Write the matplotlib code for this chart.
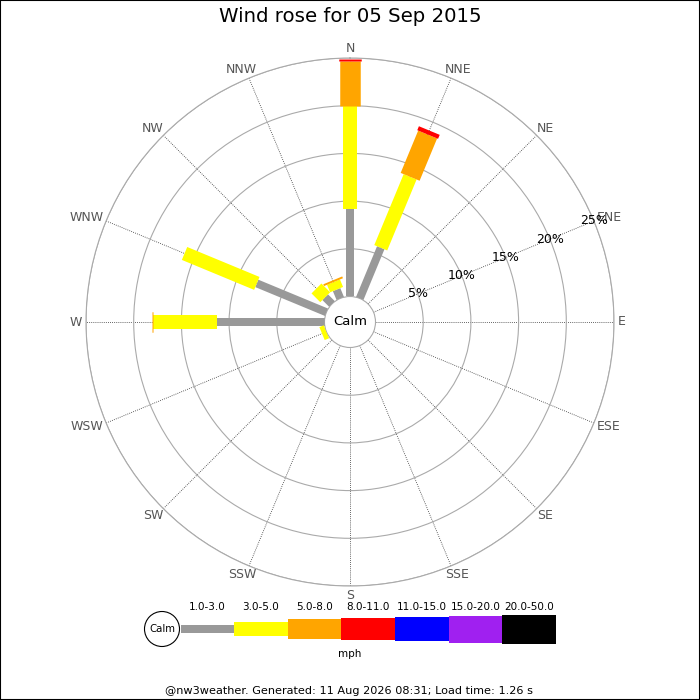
import numpy as np
import matplotlib
matplotlib.use('Agg')
import matplotlib.pyplot as plt
from matplotlib.patches import Circle, Rectangle

# data
directions = ['N', 'NNE', 'NE', 'ENE', 'E', 'ESE', 'SE', 'SSE',
              'S', 'SSW', 'SW', 'WSW', 'W', 'WNW', 'NW', 'NNW']
bands = ['1.0-3.0', '3.0-5.0', '5.0-8.0', '8.0-11.0',
         '11.0-15.0', '15.0-20.0', '20.0-50.0']
# % of the day per direction, one list per speed band (mph)
pct_1_3 = [9.2, 5.75, 0, 0, 0, 0, 0, 0, 0, 0, 0, 0, 11.3, 7.9, 1.0, 1.0]
pct_3_5 = [10.8, 8.05, 0, 0, 0, 0, 0, 0, 0, 0, 0, 0.5, 6.65, 8.2, 1.3, 0.85]
pct_5_8 = [4.7, 4.8, 0, 0, 0, 0, 0, 0, 0, 0, 0, 0, 0.12, 0, 0, 0.2]
pct_8_11 = [0.2, 0.45, 0, 0, 0, 0, 0, 0, 0, 0, 0, 0, 0, 0, 0, 0]
pct_11_15 = [0] * 16
pct_15_20 = [0] * 16
pct_20_50 = [0] * 16
rings = [5, 10, 15, 20, 25]
title = 'Wind rose for 05 Sep 2015'
footer = '@nw3weather. Generated: 11 Aug 2026 08:31; Load time: 1.26 s'

series = [pct_1_3, pct_3_5, pct_5_8, pct_8_11, pct_11_15, pct_15_20, pct_20_50]
colors = ['#999999', '#ffff00', '#ffa500', '#ff0000', '#0000ff', '#a020f0', '#000000']
thick_px = [8, 14, 20.5, 22.5, 24.5, 27, 29]

fig = plt.figure(figsize=(7, 7), dpi=100)

# legend / text layer in pixel coords
lg = fig.add_axes([0, 0, 1, 1])
lg.set_xlim(0, 700)
lg.set_ylim(700, 0)
lg.axis('off')

ax = fig.add_axes([86 / 700, 114 / 700, 528 / 700, 528 / 700], projection='polar')
ax.set_theta_zero_location('N')
ax.set_theta_direction(-1)
ax.set_rlim(0, 25)
ax.set_rorigin(-25.5 / 9.54)
ax.set_thetagrids(np.arange(16) * 22.5, [''] * 16)
ax.set_rgrids(rings, labels=[''] * len(rings))
ax.xaxis.grid(True, color='#333333', linestyle=(0, (1, 1.5)), linewidth=0.6)
ax.yaxis.grid(True, color='#aaaaaa', linestyle='-', linewidth=0.8)
ax.tick_params(axis='both', length=0)
for s in ['polar', 'inner']:
    ax.spines[s].set_edgecolor('#aaaaaa')
    ax.spines[s].set_linewidth(0.8)

thetas = np.deg2rad(np.arange(16) * 22.5)
start = np.zeros(16)
for vals, col, w in zip(series, colors, thick_px):
    vals = np.array(vals, dtype=float)
    for th, s0, v in zip(thetas, start, vals):
        if v > 0:
            ax.plot([th, th], [s0, s0 + v], color=col, lw=w * 0.72,
                    solid_capstyle='butt', zorder=3)
    start = start + vals

# compass labels pushed out so their box edge sits just off the ring
dir_labels = []
for th, name in zip(thetas, directions):
    t = ax.annotate(name, xy=(th, rings[-1]), xytext=(0, 0),
                    textcoords='offset pixels', ha='center', va='center',
                    fontsize=9, color='#555555', annotation_clip=False)
    dir_labels.append(t)

for r in rings:
    ax.text(np.deg2rad(67.5), r, f'{r}%', ha='center', va='center',
            fontsize=9, color='black', zorder=4)
ax.text(0.5, 0.5, 'Calm', transform=ax.transAxes, ha='center', va='center', fontsize=9.5)

fig.text(0.5, 1 - 17 / 700, title, ha='center', va='center', fontsize=14.2)

# legend
seg = 53.6
lefts = 180.5 + np.arange(len(bands)) * seg
lg.barh(629, seg, left=lefts, height=thick_px, color=colors, align='center')
for x, b in zip(lefts + seg / 2, bands):
    lg.text(x, 607, b, ha='center', va='center', fontsize=7.5)
lg.add_patch(Circle((162, 629), 17.5, fc='white', ec='black', lw=0.8, zorder=3))
lg.text(162, 629, 'Calm', ha='center', va='center', fontsize=7.3, zorder=4)
lg.text(350, 654, 'mph', ha='center', va='center', fontsize=7.5)
lg.text(349, 691, footer, ha='center', va='center', fontsize=8.1)

fig.patches.append(Rectangle((0, 0), 1, 1, transform=fig.transFigure,
                             fill=False, ec='black', lw=1.5))

fig.canvas.draw()
renderer = fig.canvas.get_renderer()
for t, th in zip(dir_labels, thetas):
    bb = t.get_window_extent(renderer)
    sx, cy = np.sin(th), np.cos(th)
    t.xyann = (4 * sx + 0.5 * bb.width * sx, 4 * cy + 0.4 * bb.height * cy)

fig.savefig('out.png', dpi=100)
